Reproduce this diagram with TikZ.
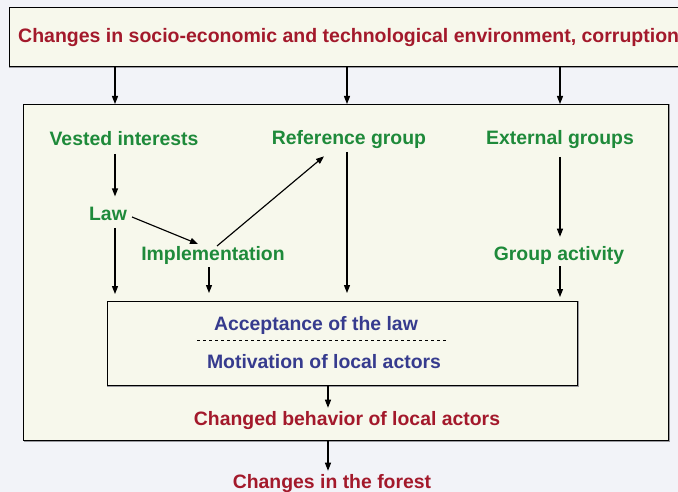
\documentclass[tikz,border=0pt]{standalone}
\usepackage{fontspec}
\setmainfont{Liberation Sans}
\usetikzlibrary{arrows.meta}

\definecolor{pagebg}{HTML}{F2F3F8}
\definecolor{boxfill}{HTML}{F7F8EC}
\definecolor{shadowgray}{HTML}{9A9AA0}
\definecolor{factorgreen}{HTML}{1E8A3A}
\definecolor{effectred}{HTML}{A3192B}
\definecolor{stateblue}{HTML}{363B8E}

\tikzset{
  framebox/.style={draw=black, line width=1.4pt, fill=boxfill},
  shadowbox/.style={draw=shadowgray, line width=1.4pt},
  lbl/.style={font=\bfseries\fontsize{19.4}{22}\selectfont, inner sep=0pt, anchor=base},
  factor/.style={lbl, text=factorgreen},
  effect/.style={lbl, text=effectred},
  inner/.style={lbl, text=stateblue},
  arr/.style={draw=black, line width=1.15pt, -{Triangle[length=8pt,width=6pt]}},
}

\begin{document}
\begin{tikzpicture}[x=1pt,y=-1pt]
  % page
  \fill[pagebg] (0,0) rectangle (678,492);
  \useasboundingbox (0,0) rectangle (678,492);

  % column positions of the vertical connectors
  \coordinate (cA) at (115,0);
  \coordinate (cB) at (209,0);
  \coordinate (cC) at (347,0);
  \coordinate (cD) at (560,0);
  \coordinate (cE) at (328,0);

  % outer environment bar (runs past the right edge)
  \draw[shadowbox] (10,8) rectangle (700,67);
  \node[framebox, anchor=north west, minimum width=691, minimum height=59,
        inner sep=0pt] (env) at (9,7) {};
  \node[effect, anchor=base west] (envtxt) at (18,43)
    {\fontsize{19.5}{22}\selectfont Changes in socio-economic and technological environment, corruption};

  % large frame for the local system
  \draw[shadowbox] (25,105) rectangle (669,441);
  \node[framebox, anchor=north west, minimum width=645, minimum height=336,
        inner sep=0pt] (sys) at (23,104) {};

  % green influence factors
  \node[factor] (vested) at (124,146) {Vested interests};
  \node[factor] (refgrp) at (349,145) {Reference group};
  \node[factor] (extgrp) at (560,145) {External groups};
  \node[factor] (law)    at (108,221) {Law};
  \node[factor] (impl)   at (213,260) {Implementation};
  \node[factor] (grpact) at (559,260) {Group activity};

  % inner box: acceptance and motivation
  \draw[draw=shadowgray, line width=1.1pt] (108,302) rectangle (578,386);
  \node[draw=black, line width=1.1pt, fill=boxfill, anchor=north west,
        minimum width=470, minimum height=84, inner sep=0pt] (accbox) at (107,301) {};
  \node[inner] (accept) at (316,330) {Acceptance of the law};
  \node[inner] (motiv)  at (324,368) {Motivation of local actors};
  \draw[line width=0.7pt, dash pattern=on 3pt off 3pt]
    (accbox.north west) ++(90,39) coordinate (dashL) -- ++(250,0) coordinate (dashR);

  % outcomes
  \node[effect] (behav)  at (347,425) {Changed behavior of local actors};
  \node[effect] (forest) at (332,488) {Changes in the forest};

  % environment feeds into the local system
  \draw[arr] (env.south -| cA) -- (sys.north -| cA);
  \draw[arr] (env.south -| cC) -- (sys.north -| cC);
  \draw[arr] (env.south -| cD) -- (sys.north -| cD);

  % influence paths
  \draw[arr] ([yshift=-8pt]vested.base -| cA) -- ([yshift=11pt]law.north -| cA);
  \draw[arr] ([yshift=-7pt]law.base -| cA) -- ([yshift=7pt]accbox.north -| cA);
  \draw[arr] ([shift={(24pt,4pt)}]law.base) -- ([shift={(-15pt,16pt)}]impl.base);
  \draw[arr] ([shift={(4pt,14pt)}]impl.base) -- ([shift={(-25pt,-7pt)}]refgrp.south);
  \draw[arr] ([yshift=-3pt]impl.south -| cB) -- ([yshift=8pt]accbox.north -| cB);
  \draw[arr] ([yshift=-7pt]refgrp.base -| cC) -- ([yshift=8pt]accbox.north -| cC);
  \draw[arr] ([yshift=-12pt]extgrp.base -| cD) -- ([yshift=9pt]grpact.north -| cD);
  \draw[arr] ([yshift=-6pt]grpact.base -| cD) -- ([yshift=4pt]accbox.north -| cD);

  % outcome chain
  \draw[arr] (accbox.south -| cE) -- ([yshift=3pt]behav.north -| cE);
  \draw[arr] (sys.south -| cE) -- ([yshift=3pt]forest.north -| cE);
\end{tikzpicture}
\end{document}
